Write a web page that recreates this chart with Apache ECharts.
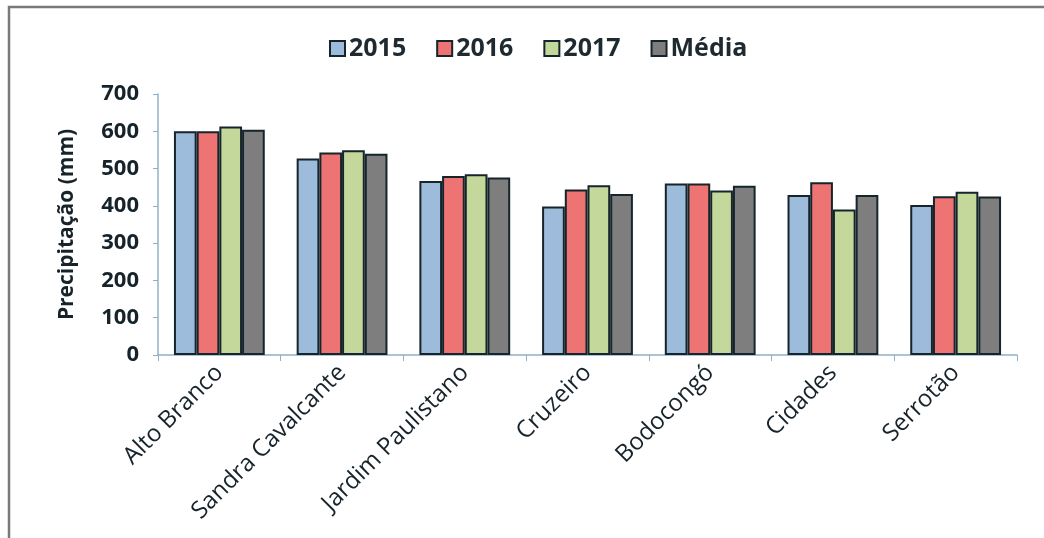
<!DOCTYPE html>
<html>
<head>
<meta charset="utf-8">
<script src="https://cdn.jsdelivr.net/npm/echarts@6/dist/echarts.min.js"></script>
<style>
html,body{margin:0;padding:0;background:#fff;}
#c{width:1044px;height:538px;}
</style>
</head>
<body>
<div id="c"></div>
<script>
const categories = ['Alto Branco','Sandra Cavalcante','Jardim Paulistano','Cruzeiro','Bodocongó','Cidades','Serrotão'];
const seriesNames = ['2015','2016','2017','Média'];
const v2015 = [600, 527, 467, 398, 460, 429, 402];
const v2016 = [600, 543, 480, 444, 460, 463, 426];
const v2017 = [613, 549, 485, 455, 441, 390, 438];
const vMedia = [604, 540, 476, 432, 454, 429, 425];
const yTicks = [0,100,200,300,400,500,600,700];
const colors = ['#9dbbdb','#ee7373','#c4d89b','#7e7e7e'];

const dataSets = [v2015, v2016, v2017, vMedia];
const font = '"Open Sans", "DejaVu Sans", sans-serif';

const chart = echarts.init(document.getElementById('c'));
chart.setOption({
  animation: false,
  backgroundColor: '#ffffff',
  graphic: [{
    type: 'rect',
    shape: {x: 9, y: 7, width: 1040, height: 540},
    style: {fill: 'none', stroke: '#7a7a7a', lineWidth: 2.5},
    silent: true
  }],
  legend: {
    top: 31,
    left: 324,
    itemWidth: 15,
    itemHeight: 15,
    itemGap: 30,
    icon: 'rect',
    textStyle: {fontFamily: font, fontWeight: 'bold', fontSize: 25, color: '#1e2a30', padding: [0,0,0,-1]},
    data: seriesNames
  },
  grid: {left: 158, right: 27, top: 94, bottom: 183},
  xAxis: {
    type: 'category',
    data: categories,
    axisLine: {lineStyle: {color: '#8fb0c8', width: 1.5}},
    axisTick: {show: true, length: 6, lineStyle: {color: '#8fb0c8'}},
    axisLabel: {rotate: 45, interval: 0, fontFamily: font, fontSize: 24, color: '#16232a', margin: 14}
  },
  yAxis: {
    type: 'value',
    min: 0, max: 700, interval: 100,
    name: 'Precipitação (mm)',
    nameLocation: 'middle',
    nameGap: 80,
    nameTextStyle: {fontFamily: font, fontWeight: 'bold', fontSize: 21, color: '#16232a'},
    axisLine: {show: true, lineStyle: {color: '#8fb0c8', width: 1.5}},
    axisTick: {show: true, length: 5, lineStyle: {color: '#8fb0c8'}},
    splitLine: {show: false},
    axisLabel: {fontFamily: font, fontWeight: 'bold', fontSize: 22, color: '#16232a', margin: 19,
      formatter: function(v){ return yTicks.indexOf(v) >= 0 ? String(v) : ''; }}
  },
  series: seriesNames.map((n, i) => ({
    name: n,
    type: 'bar',
    data: dataSets[i],
    barGap: '0%',
    barCategoryGap: '26%',
    itemStyle: {color: colors[i], borderColor: '#15252b', borderWidth: 2}
  }))
});
</script>
</body>
</html>
